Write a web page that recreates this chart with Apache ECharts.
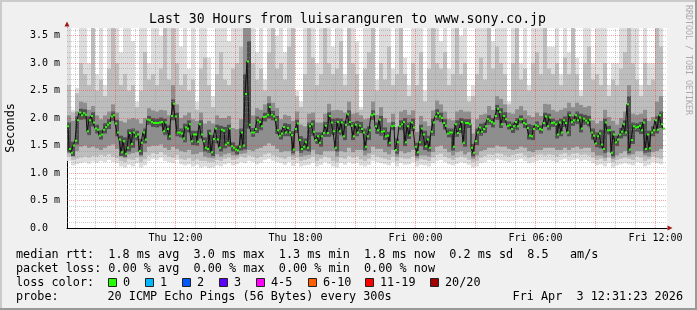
<!DOCTYPE html>
<html><head><meta charset="utf-8">
<script src="https://cdn.jsdelivr.net/npm/echarts@6/dist/echarts.min.js"></script>
<style>html,body{margin:0;padding:0;background:#f0f0f0}#c{width:697px;height:310px}</style>
</head><body><div id="c"></div>
<script>
// ---- time frame (hours since Thu 00:00) ----
const T0 = 6.575, T1 = 36.575;
const medianStep = 0.1;   // hours between median samples
const smokeStep = 0.2;    // hours per smoke column

// ---- median RTT (ms) ----
const median = [
1.85,1.44,1.37,1.50,1.59,1.96,2.10,2.05,2.09,2.06,
1.76,1.96,2.04,1.92,1.81,1.79,1.68,1.70,1.79,1.84,
1.88,1.91,2.03,2.05,1.90,1.74,1.61,1.38,1.58,1.35,
1.46,1.73,1.53,1.74,1.67,1.70,1.40,1.55,1.74,1.61,
1.97,1.96,1.93,1.91,1.91,1.91,1.92,1.93,1.76,1.92,
1.80,1.67,2.04,2.26,2.03,1.74,1.74,1.72,1.63,1.83,
1.81,1.89,1.58,1.70,1.70,1.57,1.89,1.70,1.58,1.46,
1.44,1.72,1.38,1.62,1.81,1.61,1.46,1.79,1.77,1.52,
1.55,1.81,1.49,1.46,1.43,1.41,1.48,1.74,1.50,2.44,
3.03,1.88,1.74,1.74,1.80,1.96,1.93,1.85,2.02,2.03,
2.06,2.20,2.06,2.03,1.97,1.78,1.68,1.72,1.84,1.74,
1.82,1.74,1.69,1.43,1.80,1.90,1.60,1.44,1.48,1.56,
1.46,1.85,1.89,1.75,1.60,1.67,1.55,1.67,1.73,1.86,
1.73,2.04,1.92,1.76,1.46,1.93,1.76,1.92,1.67,1.88,
2.07,1.93,1.86,1.67,1.88,1.74,1.86,1.80,1.74,1.48,
1.67,1.78,2.05,2.07,1.85,1.78,1.97,1.75,1.76,1.67,
1.68,1.55,1.85,1.86,1.42,1.56,1.85,1.89,1.93,1.56,
1.85,1.69,1.92,1.83,1.48,1.38,1.56,1.81,1.70,1.49,
1.61,1.46,1.75,1.92,2.03,2.09,2.03,2.00,1.91,1.86,
1.72,1.74,1.74,1.48,1.89,1.73,1.80,1.93,1.55,1.91,
1.91,1.89,1.46,1.37,1.58,1.74,1.83,1.75,1.80,1.85,
1.98,1.95,1.93,1.90,2.04,2.17,2.11,1.89,2.04,1.98,
1.86,1.87,1.80,1.85,1.93,1.85,1.98,1.98,1.91,1.89,
1.82,1.68,1.67,1.80,1.87,1.85,1.80,1.79,1.91,2.03,
1.85,2.01,1.91,1.92,1.89,1.70,1.92,1.74,1.96,1.91,
1.74,2.05,1.93,1.96,2.05,1.96,2.01,1.81,1.99,1.95,
1.92,1.97,1.74,1.68,1.54,1.67,1.72,1.52,1.44,1.92,
1.78,1.78,1.37,1.70,1.56,1.61,1.70,1.75,1.89,1.74,
2.25,1.43,1.60,1.85,1.83,1.84,1.86,1.78,1.92,1.44,
1.70,1.45,1.74,1.78,1.96,1.79,2.05,1.89,1.81
];

// ---- smoke: ping spread per column (ms) ----
const smokeMin = [
1.22,1.14,1.16,1.18,1.20,1.17,1.21,1.19,1.22,1.20,
1.24,1.20,1.18,1.12,1.10,1.15,1.12,1.18,1.10,1.14,
1.22,1.26,1.24,1.28,1.22,1.20,1.18,1.24,1.16,1.14,
1.16,1.12,1.15,1.10,1.12,1.09,1.10,1.14,1.12,1.16,
1.18,1.14,1.16,1.20,1.18,1.22,1.20,1.16,1.19,1.24,
1.26,1.22,1.20,1.18,1.15,1.20,1.13,1.18,1.12,1.14,
1.15,1.19,1.12,1.15,1.20,1.17,1.12,1.10,1.18,1.15,
1.20,1.17,1.19,1.14,1.12,1.15,1.22,1.20,1.18,1.16,
1.14,1.20,1.12,1.18,1.15,1.16,1.20,1.12,1.15,1.14,
1.12,1.18,1.22,1.24,1.20,1.16,1.14,1.17,1.20,1.18,
1.15,1.10,1.12,1.18,1.20,1.24,1.22,1.26,1.24,1.22,
1.20,1.22,1.24,1.26,1.22,1.18,1.20,1.22,1.24,1.22,
1.24,1.22,1.20,1.24,1.26,1.22,1.24,1.26,1.22,1.24,
1.22,1.18,1.14,1.16,1.12,1.18,1.10,1.14,1.16,1.18,
1.16,1.14,1.20,1.18,1.12,1.15,1.20,1.18,1.16
];
const smokeLo = [
1.30,1.24,1.26,1.28,1.30,1.28,1.31,1.30,1.33,1.31,
1.34,1.30,1.27,1.22,1.20,1.25,1.24,1.28,1.20,1.25,
1.32,1.36,1.34,1.38,1.33,1.30,1.28,1.33,1.26,1.24,
1.27,1.22,1.25,1.22,1.22,1.20,1.20,1.24,1.22,1.26,
1.28,1.24,1.26,1.30,1.28,1.32,1.30,1.27,1.30,1.34,
1.36,1.32,1.30,1.28,1.26,1.30,1.24,1.28,1.22,1.24,
1.26,1.30,1.22,1.26,1.30,1.28,1.22,1.20,1.28,1.26,
1.31,1.28,1.30,1.25,1.22,1.26,1.33,1.30,1.28,1.26,
1.24,1.30,1.22,1.28,1.26,1.26,1.30,1.22,1.25,1.24,
1.22,1.28,1.33,1.35,1.30,1.27,1.24,1.28,1.30,1.28,
1.24,1.20,1.22,1.28,1.31,1.34,1.33,1.36,1.35,1.32,
1.30,1.33,1.35,1.36,1.32,1.28,1.30,1.33,1.34,1.32,
1.34,1.33,1.30,1.34,1.36,1.32,1.35,1.36,1.33,1.34,
1.32,1.28,1.24,1.26,1.22,1.28,1.20,1.24,1.26,1.28,
1.26,1.24,1.30,1.28,1.22,1.25,1.30,1.28,1.26
];
const coreLo = [
1.36,1.30,1.40,1.48,1.50,1.46,1.48,1.45,1.42,1.46,
1.50,1.52,1.44,1.30,1.28,1.34,1.36,1.38,1.30,1.38,
1.48,1.50,1.50,1.52,1.46,1.42,1.48,1.44,1.40,1.38,
1.42,1.34,1.35,1.38,1.30,1.28,1.27,1.34,1.30,1.34,
1.36,1.32,1.32,1.35,1.36,1.42,1.40,1.44,1.46,1.50,
1.54,1.50,1.44,1.38,1.40,1.40,1.32,1.40,1.30,1.32,
1.33,1.42,1.34,1.33,1.40,1.40,1.40,1.30,1.40,1.38,
1.46,1.38,1.42,1.42,1.32,1.36,1.48,1.44,1.44,1.38,
1.34,1.42,1.30,1.40,1.36,1.38,1.42,1.27,1.32,1.32,
1.30,1.38,1.48,1.50,1.44,1.38,1.32,1.38,1.40,1.34,
1.38,1.26,1.32,1.40,1.42,1.46,1.46,1.50,1.48,1.48,
1.44,1.42,1.44,1.48,1.46,1.40,1.38,1.42,1.42,1.46,
1.46,1.46,1.42,1.42,1.46,1.42,1.46,1.48,1.44,1.46,
1.46,1.38,1.32,1.32,1.28,1.38,1.26,1.32,1.36,1.40,
1.32,1.34,1.40,1.40,1.32,1.30,1.38,1.40,1.44
];
const coreHi = [
2.05,1.95,2.12,2.30,2.28,2.15,2.22,2.05,1.98,2.05,
2.12,2.25,2.10,1.95,1.92,1.98,2.00,1.98,1.90,2.00,
2.18,2.14,2.12,2.15,2.14,2.05,2.60,2.25,2.00,2.05,
2.10,1.98,1.95,2.10,1.90,1.95,1.90,2.05,2.00,2.00,
2.04,1.82,1.80,1.98,3.70,3.70,2.05,2.18,2.15,2.25,
2.40,2.28,2.18,1.98,2.06,2.04,1.95,2.12,1.88,1.85,
2.08,2.10,1.92,1.92,2.08,2.26,2.14,2.15,2.14,2.10,
2.30,2.08,2.10,2.05,1.98,2.00,2.30,2.06,2.20,2.00,
1.92,2.08,1.84,2.12,2.15,2.06,2.14,1.75,2.04,1.94,
1.86,2.14,2.32,2.25,2.12,1.98,1.96,2.12,2.15,2.12,
2.12,1.72,1.98,2.06,2.08,2.22,2.15,2.40,2.35,2.25,
2.10,2.08,2.16,2.22,2.14,2.05,2.02,2.10,2.04,2.26,
2.25,2.15,2.12,2.15,2.18,2.28,2.20,2.28,2.24,2.20,
2.22,1.96,1.90,1.95,2.15,2.02,1.95,1.88,2.00,2.12,
2.60,2.08,2.06,2.08,2.15,1.95,2.02,2.30,2.40
];
const innerLo = [
1.38,1.31,1.52,1.97,1.98,1.69,1.85,1.72,1.61,1.72,
1.80,1.95,1.67,1.31,1.29,1.39,1.46,1.59,1.33,1.54,
1.88,1.84,1.83,1.85,1.69,1.60,1.96,1.67,1.65,1.56,
1.74,1.51,1.50,1.63,1.39,1.37,1.31,1.54,1.39,1.45,
1.48,1.39,1.34,1.41,1.43,1.81,1.66,1.73,1.78,1.94,
1.99,1.96,1.71,1.61,1.67,1.67,1.36,1.73,1.37,1.41,
1.39,1.68,1.53,1.48,1.66,1.66,1.69,1.39,1.69,1.60,
1.86,1.60,1.67,1.73,1.41,1.60,1.97,1.71,1.68,1.60,
1.48,1.78,1.35,1.78,1.49,1.62,1.76,1.31,1.49,1.42,
1.39,1.68,1.96,1.93,1.79,1.65,1.41,1.66,1.73,1.48,
1.82,1.30,1.51,1.68,1.73,1.88,1.83,1.97,1.82,1.91,
1.79,1.73,1.78,1.90,1.82,1.61,1.60,1.78,1.72,1.84,
1.78,1.84,1.63,1.67,1.84,1.67,1.86,1.89,1.74,1.88,
1.85,1.61,1.47,1.45,1.37,1.70,1.30,1.49,1.63,1.67,
1.36,1.53,1.75,1.71,1.37,1.38,1.67,1.72,1.82
];
const innerHi = [
1.92,1.57,2.03,2.17,2.16,2.03,2.11,1.88,1.78,1.91,
1.98,2.12,1.97,1.68,1.65,1.80,1.81,1.77,1.62,1.81,
2.04,2.00,1.99,2.01,1.99,1.87,2.34,2.10,1.81,1.90,
1.96,1.77,1.77,1.96,1.65,1.79,1.69,1.88,1.86,1.84,
1.88,1.56,1.50,1.81,2.80,3.40,1.82,2.03,2.00,2.10,
2.27,2.13,2.04,1.79,1.91,1.89,1.76,1.97,1.67,1.63,
1.92,1.96,1.74,1.74,1.93,2.11,1.99,2.00,1.99,1.95,
2.14,1.93,1.95,1.93,1.81,1.85,2.14,1.92,2.04,1.83,
1.75,1.93,1.63,1.96,2.00,1.92,1.99,1.55,1.88,1.77,
1.68,1.99,2.16,2.10,1.98,1.81,1.81,1.96,2.00,1.98,
1.98,1.53,1.81,1.90,1.92,2.05,2.00,2.24,2.18,2.11,
1.94,1.92,2.00,2.05,1.98,1.89,1.87,1.94,1.87,2.10,
2.08,1.99,1.96,1.99,2.03,2.12,2.03,2.12,2.08,2.06,
2.04,1.81,1.74,1.79,1.99,1.86,1.77,1.68,1.82,1.96,
2.40,1.92,1.91,1.93,1.99,1.77,1.85,2.03,2.12
];
const smokeHi = [
2.60,2.10,2.45,3.00,2.80,2.60,3.70,2.50,2.70,2.40,
2.90,3.70,3.00,2.60,2.80,2.50,2.60,2.20,2.50,3.20,
2.70,2.80,2.60,2.90,3.70,2.70,3.70,3.00,2.60,2.80,
2.50,2.70,2.15,2.90,3.10,2.60,2.20,2.80,3.20,2.70,
2.60,2.90,3.00,3.30,3.70,3.70,3.00,2.70,2.90,2.50,
3.20,3.70,2.90,3.00,2.70,3.30,3.70,2.40,2.20,2.80,
3.70,3.10,2.60,2.80,3.70,3.00,2.80,2.90,3.40,2.60,
3.70,3.00,2.80,2.15,2.90,3.20,3.70,2.50,3.00,2.70,
3.30,2.60,2.80,3.70,2.80,2.40,3.00,2.60,3.20,2.30,
2.90,3.70,3.00,2.90,3.20,2.60,2.80,3.70,2.80,3.00,
2.30,2.40,2.80,3.10,2.70,3.70,2.90,3.30,3.00,2.80,
2.25,3.00,3.70,2.70,2.90,2.50,3.00,3.20,2.80,3.70,
2.90,2.80,3.00,2.60,3.10,2.80,3.70,2.80,2.40,3.00,
3.30,2.70,2.80,2.60,3.00,2.40,2.70,2.60,2.90,3.20,
3.70,3.00,2.70,2.40,3.00,2.60,2.70,3.70,3.30
];
const smokeMax = [
3.70,2.15,2.55,3.70,3.70,3.00,3.70,2.80,3.70,2.60,
3.70,3.70,3.70,3.20,3.70,3.70,3.40,2.30,3.70,3.70,
3.00,3.70,3.70,3.50,3.70,3.70,3.70,3.70,3.30,3.70,
2.90,3.70,2.30,3.70,3.70,3.10,2.40,3.70,3.70,3.70,
3.40,3.70,3.70,3.70,3.70,3.70,3.70,3.20,3.70,2.70,
3.70,3.70,3.50,3.70,3.20,3.70,3.70,2.50,2.30,3.70,
3.70,3.70,3.00,3.70,3.70,3.70,3.30,3.70,3.70,2.80,
3.70,3.70,3.40,2.20,3.70,3.70,3.70,2.70,3.70,3.70,
3.70,2.90,3.70,3.70,3.10,2.60,3.70,3.70,3.70,2.50,
3.70,3.70,3.70,3.40,3.70,2.90,3.70,3.70,3.50,3.70,
2.40,2.60,3.70,3.70,3.70,3.70,3.40,3.70,3.70,3.70,
2.30,3.70,3.70,3.00,3.70,2.60,3.70,3.70,3.70,3.70,
3.30,3.30,3.70,2.80,3.70,3.20,3.70,3.10,2.50,3.70,
3.70,3.00,3.70,3.70,3.70,2.60,3.00,3.00,3.70,3.70,
3.70,3.70,3.70,2.60,3.70,3.00,3.00,3.70,3.70
];

// ---- axes ----
const xTickHours = [12, 18, 24, 30, 36];
const xTickLabels = ['Thu 12:00', 'Thu 18:00', 'Fri 00:00', 'Fri 06:00', 'Fri 12:00'];
const yTicks = [0, 0.5, 1.0, 1.5, 2.0, 2.5, 3.0, 3.5];
const yTickLabels = ['0.0', '0.5 m', '1.0 m', '1.5 m', '2.0 m', '2.5 m', '3.0 m', '3.5 m'];
const Y_MAX = 3.64;

// ---- legend ----
const titleText = 'Last 30 Hours from luisaranguren to www.sony.co.jp';
const statsLine = 'median rtt:  1.8 ms avg  3.0 ms max  1.3 ms min  1.8 ms now  0.2 ms sd  8.5   am/s';
const lossLine = 'packet loss: 0.00 % avg  0.00 % max  0.00 % min  0.00 % now';
const probeText = '20 ICMP Echo Pings (56 Bytes) every 300s';
const dateText = 'Fri Apr  3 12:31:23 2026';
const lossLabels = ['0', '1', '2', '3', '4-5', '6-10', '11-19', '20/20'];
const lossColors = ['#26ff00', '#00b8ff', '#0059ff', '#5e00ff', '#ff00ff', '#ff5e00', '#ff0000', '#a00000'];
const lossBoxX = [108, 145, 182, 219, 256, 308, 365, 430];

const FONT = '"DejaVu Sans Mono", monospace';
const f = s => s + 'px ' + FONT;

function band(lo, hi, color, z) {
  return {
    type: 'custom', z: z, silent: true, animation: false,
    data: lo.map((v, j) => [T0 + smokeStep * j, T0 + smokeStep * (j + 1), v, hi[j]]),
    encode: { x: [0, 1], y: [2, 3] },
    renderItem: function (params, api) {
      const p0 = api.coord([api.value(0), api.value(2)]);
      const p1 = api.coord([api.value(1), api.value(3)]);
      const cs = params.coordSys;
      const r = echarts.graphic.clipRectByRect(
        { x: p0[0], y: p1[1], width: p1[0] - p0[0], height: p0[1] - p1[1] },
        { x: cs.x, y: cs.y, width: cs.width, height: cs.height });
      return r && { type: 'rect', shape: r, style: { fill: color } };
    }
  };
}

const MINOR = { color: 'rgba(140,140,140,0.45)', width: 1, type: [1, 1] };
const MAJOR = { color: 'rgba(255,30,30,0.42)', width: 1, type: [1, 1] };
const gridLines = [];
for (let h = 7; h <= 36; h++) gridLines.push({ xAxis: h, lineStyle: h % 3 ? MINOR : MAJOR });
for (let k = 1; k <= 36; k++) gridLines.push({ yAxis: k / 10, lineStyle: k % 5 ? MINOR : MAJOR });

const graphics = [
  { type: 'text', x: 347.5, y: 19.5, style: { text: titleText, font: f(13.2), fill: '#000', align: 'center', verticalAlign: 'middle' } },
  { type: 'text', x: 16, y: 254.5, style: { text: statsLine, font: f(11.8), fill: '#000', align: 'left', verticalAlign: 'middle' } },
  { type: 'text', x: 16, y: 268.5, style: { text: lossLine, font: f(11.8), fill: '#000', align: 'left', verticalAlign: 'middle' } },
  { type: 'text', x: 16, y: 282.5, style: { text: 'loss color:', font: f(11.8), fill: '#000', align: 'left', verticalAlign: 'middle' } },
  { type: 'text', x: 16, y: 296.5, style: { text: 'probe:', font: f(11.8), fill: '#000', align: 'left', verticalAlign: 'middle' } },
  { type: 'text', x: 107.5, y: 296.5, style: { text: probeText, font: f(11.8), fill: '#000', align: 'left', verticalAlign: 'middle' } },
  { type: 'text', x: 683, y: 296.5, style: { text: dateText, font: f(11.8), fill: '#000', align: 'right', verticalAlign: 'middle' } },
  { type: 'text', x: 688, y: 60, rotation: -Math.PI / 2, style: { text: 'RRDTOOL / TOBI OETIKER', font: f(8.3), fill: '#aaaaaa', align: 'center', verticalAlign: 'middle' } },
  // axis arrows
  { type: 'polygon', shape: { points: [[64.5, 26.5], [69.5, 26.5], [67, 21.5]] }, style: { fill: '#a01818' }, z: 10 },
  { type: 'polygon', shape: { points: [[667.5, 225.5], [667.5, 230.5], [672.5, 228]] }, style: { fill: '#a01818' }, z: 10 },
  // frame
  { type: 'rect', shape: { x: 0, y: 0, width: 697, height: 2 }, style: { fill: '#cbcbcb' }, z: 20 },
  { type: 'rect', shape: { x: 0, y: 0, width: 2, height: 310 }, style: { fill: '#cbcbcb' }, z: 20 },
  { type: 'rect', shape: { x: 695, y: 0, width: 2, height: 310 }, style: { fill: '#999999' }, z: 21 },
  { type: 'rect', shape: { x: 0, y: 308, width: 697, height: 2 }, style: { fill: '#999999' }, z: 21 }
];
lossLabels.forEach((lab, i) => {
  graphics.push({ type: 'rect', shape: { x: lossBoxX[i] + 0.5, y: 278.5, width: 8, height: 8 }, style: { fill: lossColors[i], stroke: '#222', lineWidth: 1 } });
  graphics.push({ type: 'text', x: lossBoxX[i] + 15, y: 282.5, style: { text: lab, font: f(11.8), fill: '#000', align: 'left', verticalAlign: 'middle' } });
});

const chart = echarts.init(document.getElementById('c'), null, { renderer: 'canvas', width: 697, height: 310 });
chart.setOption({
  animation: false,
  backgroundColor: '#f0f0f0',
  grid: { left: 67, top: 28, right: 30, bottom: 82, containLabel: false, outerBoundsMode: 'none',
          show: true, backgroundColor: '#ffffff', borderWidth: 0 },
  xAxis: {
    type: 'value', min: T0, max: T1,
    axisLine: { show: true, lineStyle: { color: '#000', width: 1 } },
    axisTick: { show: false }, splitLine: { show: false },
    axisLabel: {
      customValues: xTickHours,
      formatter: v => { const i = xTickHours.findIndex(h => Math.abs(h - v) < 1e-6); return i < 0 ? '' : xTickLabels[i]; },
      fontFamily: FONT, fontSize: 10, color: '#000', margin: 5
    }
  },
  yAxis: {
    type: 'value', min: 0, max: Y_MAX, interval: 0.5,
    axisLine: { show: true, lineStyle: { color: '#000', width: 1 } },
    axisTick: { show: false }, splitLine: { show: false },
    axisLabel: {
      customValues: yTicks,
      formatter: v => { const i = yTicks.findIndex(t => Math.abs(t - v) < 1e-6); return i < 0 ? '' : yTickLabels[i]; },
      align: 'left', margin: 37, fontFamily: FONT, fontSize: 10, color: '#000'
    },
    name: 'Seconds', nameLocation: 'middle', nameGap: 50,
    nameTextStyle: { fontFamily: FONT, fontSize: 11.8, color: '#000' }
  },
  graphic: graphics,
  series: [
    band(smokeMin, smokeMax, '#dddddd', 1),
    band(smokeLo, smokeHi, '#bdbdbd', 1),
    band(coreLo, coreHi, '#8e8e8e', 1),
    band(innerLo, innerHi, '#505050', 1),
    {
      type: 'line', data: [], z: 3, silent: true,
      markLine: { silent: true, symbol: ['none', 'none'], animation: false, label: { show: false }, data: gridLines }
    },
    {
      type: 'line', z: 5, silent: true,
      data: median.map((v, i) => [T0 + 0.05 + medianStep * i, v]),
      step: 'middle', showSymbol: true, showAllSymbol: true,
      symbol: 'rect', symbolSize: [2, 2],
      itemStyle: { color: '#26ff00' },
      lineStyle: { color: '#111', width: 1 }
    }
  ]
});
</script></body></html>
